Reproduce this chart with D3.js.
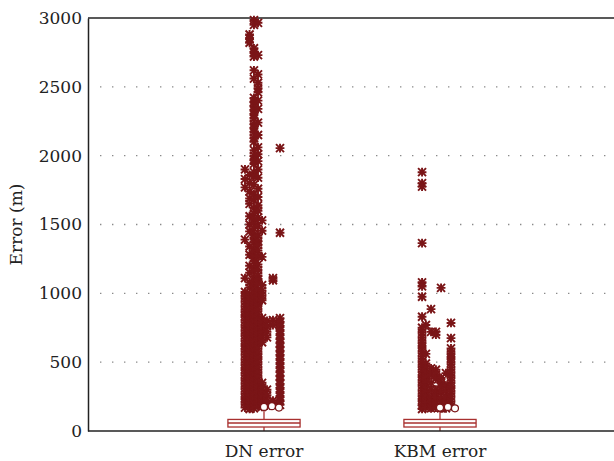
<!DOCTYPE html>
<html>
<head>
<meta charset="utf-8">
<script src="https://cdn.jsdelivr.net/npm/d3@7"></script>
<style>
  html, body { margin: 0; padding: 0; background: #fff; }
  svg { display: block; }
</style>
</head>
<body>
<div id="chart"></div>
<script>
// categories and axis ticks
var categories = ["DN error", "KBM error"];
var yTicks = [0, 500, 1000, 1500, 2000, 2500, 3000];

// box statistics (m)
var boxQ1 = [29, 29];
var boxMedian = [58, 58];
var boxQ3 = [84, 84];
var whiskerLow = [0, 0];
var whiskerHigh = [165, 165];

// DN outliers, one array per jitter lane (left to right)
var dnLane0 = [1900, 1830, 1770, 1390, 1110, 1010, 975, 940, 905, 870, 835, 800, 765, 730, 695, 660, 625, 590, 555, 520, 485, 450, 415, 380, 345, 310, 275, 240, 205, 170];
var dnLane1 = [2880, 2850, 2820, 1860, 1800, 1740, 1690, 1650, 1560, 1500, 1450, 1340, 1280, 1200, 1150, 1080, 1040, 990, 955, 920, 885, 850, 815, 780, 745, 710, 675, 640, 605, 570, 535, 500, 465, 430, 395, 360, 325, 290, 255, 220, 185, 160];
var dnLane2 = [2985, 2950, 2780, 2750, 2720, 2620, 2560, 2420, 2390, 2360, 2330, 2300, 2270, 2230, 2200, 2170, 2130, 2100, 2040, 2000, 1970, 1940, 1880, 1850, 1790, 1720, 1680, 1620, 1580, 1540, 1510, 1470, 1430, 1400, 1370, 1330, 1300, 1260, 1230, 1190, 1160, 1120, 1090, 1060, 1030, 1000, 965, 930, 895, 860, 825, 790, 755, 720, 685, 650, 615, 580, 545, 510, 475, 440, 405, 370, 335, 300, 265, 230, 195, 165];
var dnLane3 = [2965, 2730, 2590, 2530, 2490, 2460, 2400, 2340, 2240, 2150, 2060, 2010, 1960, 1900, 1840, 1760, 1700, 1640, 1600, 1550, 1490, 1420, 1380, 1350, 1310, 1270, 1210, 1170, 1130, 1100, 1070, 1020, 985, 950, 915, 880, 845, 810, 775, 740, 705, 670, 635, 600, 565, 530, 495, 460, 425, 390, 355, 320, 285, 250, 215, 180];
var dnLane4 = [1530, 1455, 1265, 1060, 1020, 985, 950, 820, 785, 750, 715, 680, 645, 350, 315, 280, 245, 210, 175];
var dnLane5 = [800, 760, 720, 680, 300, 260, 220, 185];
var dnLane6 = [1095, 1110, 805, 770, 220, 185];
var dnLane7 = [2055, 1440, 820, 790, 760, 730, 700, 670, 640, 610, 580, 550, 520, 490, 460, 430, 400, 370, 340, 310, 280, 250, 220, 190];
var dnCircles = [175, 180, 170];

// KBM outliers, one array per jitter lane (left to right)
var kbmLane0 = [1880, 1800, 1775, 1365, 1080, 1050, 975, 830, 750, 715, 680, 645, 610, 575, 540, 505, 470, 435, 400, 365, 330, 295, 260, 225, 190, 160];
var kbmLane1 = [770, 560, 490, 455, 420, 385, 350, 315, 280, 245, 210, 170];
var kbmLane2 = [885, 720, 455, 410, 350, 300, 250, 220, 190, 165];
var kbmLane3 = [720, 700, 445, 410, 380, 300, 270, 245, 200, 170];
var kbmLane4 = [1040, 385, 350, 320, 280, 240, 200, 165];
var kbmLane5 = [420, 330, 290, 245, 200, 165];
var kbmLane6 = [785, 675, 600, 565, 530, 495, 460, 425, 390, 355, 320, 285, 250, 215, 180];
var kbmCircles = [170, 175, 165];

var dnLanes = [dnLane0, dnLane1, dnLane2, dnLane3, dnLane4, dnLane5, dnLane6, dnLane7];
var kbmLanes = [kbmLane0, kbmLane1, kbmLane2, kbmLane3, kbmLane4, kbmLane5, kbmLane6];

// horizontal jitter of each lane, in category units
var dnOffsets = [-0.108, -0.082, -0.057, -0.034, -0.011, 0.017, 0.051, 0.091];
var kbmOffsets = [-0.102, -0.08, -0.051, -0.023, 0.006, 0.034, 0.0625];
var circleOffsets = [0.0, 0.045, 0.085];

var width = 614, height = 461;
var margin = {left: 88, top: 18, bottom: 431};

var svg = d3.select("#chart").append("svg")
    .attr("width", width)
    .attr("height", height);

var x = d3.scaleLinear().domain([0, 3]).range([margin.left, 616]);
var y = d3.scaleLinear().domain([0, 3000]).range([margin.bottom, margin.top]);

var fontFamily = "'DejaVu Serif', 'Liberation Serif', serif";
var starColor = "#7a1517";
var boxColor = "#a8302f";

// dotted grid
svg.append("g").selectAll("line")
  .data(yTicks.filter(function(d) { return d > 0 && d < 3000; }))
  .enter().append("line")
    .attr("x1", 100).attr("x2", width)
    .attr("y1", function(d) { return y(d); })
    .attr("y2", function(d) { return y(d); })
    .attr("stroke", "#8a8a8a")
    .attr("stroke-width", 1.4)
    .attr("stroke-dasharray", "1.4,10.6");

// frame: top line and left axis
svg.append("line")
  .attr("x1", margin.left).attr("x2", width)
  .attr("y1", margin.top).attr("y2", margin.top)
  .attr("stroke", "#222").attr("stroke-width", 1.5);

var yAxis = svg.append("g")
  .attr("transform", "translate(" + margin.left + ",0)")
  .call(d3.axisLeft(y).tickValues(yTicks).tickSize(0).tickPadding(6).tickFormat(d3.format("d")));
yAxis.select(".domain").attr("stroke", "#222").attr("stroke-width", 1.5);
yAxis.selectAll("text")
  .attr("fill", "#222")
  .style("font-family", fontFamily)
  .style("font-size", "17px");

svg.append("text")
  .attr("transform", "translate(22," + ((margin.top + margin.bottom) / 2) + ") rotate(-90)")
  .attr("text-anchor", "middle")
  .attr("fill", "#222")
  .style("font-family", fontFamily)
  .style("font-size", "17px")
  .text("Error (m)");

// boxes and whiskers
categories.forEach(function(c, i) {
  var cx = x(i + 1);
  var half = (x(0.205) - x(0));
  var g = svg.append("g");
  g.append("line")
    .attr("x1", cx).attr("x2", cx)
    .attr("y1", y(boxQ3[i])).attr("y2", y(whiskerHigh[i]))
    .attr("stroke", boxColor).attr("stroke-width", 1.3);
  g.append("line")
    .attr("x1", cx).attr("x2", cx)
    .attr("y1", y(boxQ1[i])).attr("y2", y(whiskerLow[i]))
    .attr("stroke", boxColor).attr("stroke-width", 1.3);
  g.append("rect")
    .attr("x", cx - half).attr("width", half * 2)
    .attr("y", y(boxQ3[i])).attr("height", y(boxQ1[i]) - y(boxQ3[i]))
    .attr("fill", "#fff")
    .attr("stroke", boxColor).attr("stroke-width", 1.3);
  g.append("line")
    .attr("x1", cx - half).attr("x2", cx + half)
    .attr("y1", y(boxMedian[i])).attr("y2", y(boxMedian[i]))
    .attr("stroke", boxColor).attr("stroke-width", 1.3);
});

// outliers (asterisks)
var r = 4;
var starPath = "M" + (-r) + "," + (-r) + "L" + r + "," + r +
               "M" + (-r) + "," + r + "L" + r + "," + (-r) +
               "M0," + (-r * 1.1) + "L0," + (r * 1.1) +
               "M" + (-r * 1.1) + ",0L" + (r * 1.1) + ",0";

function drawLanes(lanes, offsets, catIndex) {
  var pts = [];
  lanes.forEach(function(lane, j) {
    lane.forEach(function(v) { pts.push({dx: offsets[j], v: v}); });
  });
  svg.append("g").selectAll("path")
    .data(pts)
    .enter().append("path")
      .attr("transform", function(d) {
        return "translate(" + x(catIndex + 1 + d.dx) + "," + y(d.v) + ")";
      })
      .attr("d", starPath)
      .attr("fill", "none")
      .attr("stroke", starColor)
      .attr("stroke-width", 1.9);
}
drawLanes(dnLanes, dnOffsets, 0);
drawLanes(kbmLanes, kbmOffsets, 1);

function drawCircles(vals, catIndex) {
  svg.append("g").selectAll("circle")
    .data(vals)
    .enter().append("circle")
      .attr("cx", function(d, k) { return x(catIndex + 1 + circleOffsets[k]); })
      .attr("cy", function(d) { return y(d); })
      .attr("r", 3.5)
      .attr("fill", "#fff")
      .attr("stroke", starColor)
      .attr("stroke-width", 1.2);
}
drawCircles(dnCircles, 0);
drawCircles(kbmCircles, 1);

// bottom axis
svg.append("line")
  .attr("x1", margin.left).attr("x2", width)
  .attr("y1", margin.bottom).attr("y2", margin.bottom)
  .attr("stroke", "#222").attr("stroke-width", 1.5);

svg.append("g").selectAll("text")
  .data(categories)
  .enter().append("text")
    .attr("x", function(d, i) { return x(i + 1); })
    .attr("y", 457)
    .attr("text-anchor", "middle")
    .attr("fill", "#222")
    .style("font-family", fontFamily)
    .style("font-size", "17px")
    .text(function(d) { return d; });
</script>
</body>
</html>
